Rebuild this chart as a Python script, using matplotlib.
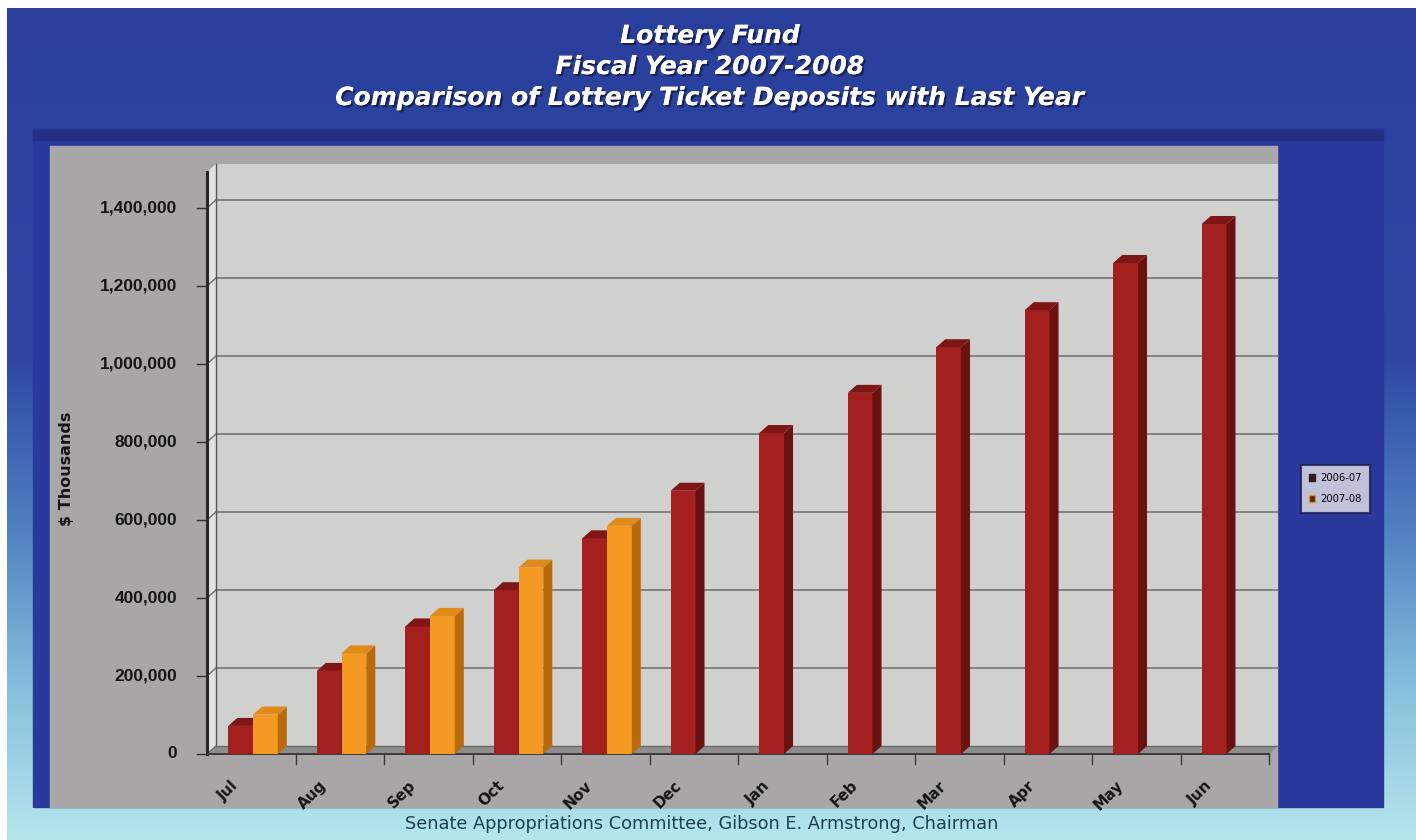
import numpy as np
import matplotlib
matplotlib.use("Agg")
import matplotlib.pyplot as plt
from matplotlib.patches import Polygon, Rectangle, Patch
from matplotlib.colors import LinearSegmentedColormap
import matplotlib.patheffects as pe

# ---- data ($ thousands, cumulative deposits) ----
months = ["Jul", "Aug", "Sep", "Oct", "Nov", "Dec", "Jan", "Feb", "Mar", "Apr", "May", "Jun"]
fy_2006_07 = [72000, 213000, 327000, 420000, 553000, 675000, 823000, 926000, 1043000, 1138000, 1259000, 1359000]
fy_2007_08 = [101000, 258000, 354000, 478000, 585000]
series_labels = ["2006-07", "2007-08"]
y_ticks = [0, 200000, 400000, 600000, 800000, 1000000, 1200000, 1400000]

title_lines = ["Lottery Fund", "Fiscal Year 2007-2008",
               "Comparison of Lottery Ticket Deposits with Last Year"]
callout = "Year-to-Date Lottery Collections Are\n$32.2 Million Above Last Year"
footer = "Senate Appropriations Committee, Gibson E. Armstrong, Chairman"

W, H = 1416, 840
fig = plt.figure(figsize=(W / 100, H / 100), dpi=100)

# ---- background layer in pixel coordinates ----
bg = fig.add_axes([0, 0, 1, 1], zorder=0)
bg.set_xlim(0, W)
bg.set_ylim(H, 0)
bg.axis("off")

grad = LinearSegmentedColormap.from_list(
    "bg", [(0.0, "#2a3f9c"), (0.42, "#2d47a3"), (0.62, "#4f7fc0"),
           (0.82, "#86c0dc"), (1.0, "#b6e6ec")])
g = np.linspace(0, 1, 400).reshape(-1, 1)
bg.imshow(g, cmap=grad, extent=(7, W, H, 8), aspect="auto", zorder=0)

# dark chart panel, grey plot area
bg.add_patch(Rectangle((33, 130), 1350, 677, color="#2b399c", zorder=1))
bg.add_patch(Rectangle((33, 130), 1350, 10, color="#232f85", zorder=1.1))
bg.add_patch(Rectangle((50, 146), 1227, 661, color="#a9a6a7", zorder=2))

# title
for i, line in enumerate(title_lines):
    bg.text(710, 36 + i * 31, line, ha="center", va="center", color="white",
            fontsize=18, fontweight="bold", fontstyle="italic",
            family="DejaVu Sans", zorder=5,
            path_effects=[pe.withSimplePatchShadow(offset=(1.5, -1.5),
                                                   shadow_rgbFace="#111133", alpha=0.7),
                          pe.Normal()])

# footer
bg.text(702, 824, footer, ha="center", va="center", color="#1c4052",
        fontsize=12.8, family="DejaVu Sans", zorder=5)

# ---- chart axes (front plane of the 3-D box) ----
x0_px, x1_px, ybase_px, ytop_px = 207, 1269, 754, 172
ax = fig.add_axes([x0_px / W, 1 - ybase_px / H, (x1_px - x0_px) / W,
                   (ybase_px - ytop_px) / H], zorder=2)
ax.patch.set_alpha(0)
ax.axis("off")
n = len(months)
ymax = (ybase_px - ytop_px) / 78 * 200000
ax.set_xlim(-0.5, n - 0.5)
ax.set_ylim(0, ymax)

DX, DY = 9, 8  # depth of the 3-D effect, pixels
ppx = (x1_px - x0_px) / n
ppy = (ybase_px - ytop_px) / ymax
ddx, ddy = DX / ppx, DY / ppy
xl, xr = -0.5, n - 0.5

def poly(pts, color, z, ec="none", lw=0):
    ax.add_patch(Polygon(pts, closed=True, facecolor=color, edgecolor=ec,
                         lw=lw, zorder=z, clip_on=False))

# back wall, left wall, floor
poly([(xl + ddx, ddy), (xr + ddx, ddy), (xr + ddx, ymax + ddy), (xl + ddx, ymax + ddy)],
     "#d0d0cf", 1)
poly([(xl, 0), (xl + ddx, ddy), (xl + ddx, ymax + ddy), (xl, ymax)], "#e2e2e2", 1.2)
poly([(xl, 0), (xr, 0), (xr + ddx, ddy), (xl + ddx, ddy)], "#8f8d8e", 1.3)

for v in y_ticks[1:]:
    ax.plot([xl + ddx, xr + ddx], [v + ddy, v + ddy], color="#6e6e6e", lw=1.1,
            zorder=1.5, clip_on=False)
for v in y_ticks:
    ax.plot([xl, xl + ddx], [v, v + ddy], color="#6e6e6e", lw=1.0, zorder=1.5,
            clip_on=False)
    ax.plot([xl - 0.11, xl], [v, v], color="#303030", lw=1.0, zorder=1.6,
            clip_on=False)
    ax.annotate(f"{v:,}", xy=(xl, v), xytext=(-30, 0), textcoords="offset pixels",
                ha="right", va="center", fontsize=12.5, fontweight="bold",
                family="Liberation Sans", color="#151515", annotation_clip=False)

ax.plot([xl, xl], [0, ymax], color="#262626", lw=2.2, zorder=1.7, clip_on=False)
ax.plot([xl + ddx, xl + ddx], [ddy, ymax + ddy], color="#555555", lw=1, zorder=1.7,
        clip_on=False)
ax.plot([xl, xr], [0, 0], color="#3a3a3a", lw=1.4, zorder=1.7, clip_on=False)
ax.plot([xl + ddx, xr + ddx], [ddy, ddy], color="#6a6a6a", lw=1, zorder=1.7,
        clip_on=False)
for k in range(1, n + 1):
    ax.plot([k - 0.5, k - 0.5], [0, -10 / ppy], color="#3a3a3a", lw=1, zorder=1.7,
            clip_on=False)

# month labels
for i, m in enumerate(months):
    ax.annotate(m, xy=(i - 0.11, 0), xytext=(0, -24), textcoords="offset pixels",
                ha="right", va="top", rotation=45, fontsize=11, fontweight="bold",
                family="DejaVu Sans", color="#151515", annotation_clip=False)

# ---- 3-D bars ----
bw = 0.28
styles = [("#a3201f", "#6a1111", "#7e1616"), ("#f49a22", "#b96a0d", "#e08a1a")]
offsets = [-0.26, -0.26 + bw]
for s, vals in enumerate([fy_2006_07, fy_2007_08]):
    front, side, top = styles[s]
    xs = np.arange(len(vals)) + offsets[s]
    z = 3 + 2 * s
    ax.bar(xs, vals, width=bw, align="edge", color=front, zorder=z,
           edgecolor="none", clip_on=False)
    for x, v in zip(xs, vals):
        poly([(x + bw, 0), (x + bw + ddx, ddy), (x + bw + ddx, v + ddy), (x + bw, v)],
             side, z + 0.5)
        poly([(x, v), (x + bw, v), (x + bw + ddx, v + ddy), (x + ddx, v + ddy)],
             top, z + 0.5)

# y axis title
bg.text(66, 469, "$ Thousands", rotation=90, ha="center", va="center",
        fontsize=11.5, fontweight="bold", family="DejaVu Sans", color="#151515",
        zorder=5)

# ---- callout box ----
for k, a in enumerate([0.10, 0.10, 0.12]):
    bg.add_patch(Rectangle((322 + 3 + k * 2, 214 + 3 + k * 2), 395, 80,
                           color="#555555", alpha=a, lw=0, zorder=6))
bg.add_patch(Rectangle((322, 214), 395, 80, facecolor="#2a35a6", edgecolor="#3a48b8",
                       lw=1, zorder=7))
bg.text(519, 254, callout, ha="center", va="center", color="white", fontsize=9.8,
        fontweight="bold", family="DejaVu Sans", linespacing=1.3, zorder=8)

# ---- legend ----
handles = [Patch(facecolor="#3b1418", edgecolor="#222222", label=series_labels[0]),
           Patch(facecolor="#4a2a10", edgecolor="#e0901e", label=series_labels[1])]
leg = fig.legend(handles=handles, loc="center", bbox_to_anchor=(1335.5 / W, 1 - 488.5 / H),
                 prop={"family": "DejaVu Sans", "size": 7.2}, frameon=True,
                 fancybox=False, handlelength=0.6, handleheight=0.6,
                 handletextpad=0.5, labelspacing=1.1, borderpad=0.85,
                 borderaxespad=0)
leg.get_frame().set_facecolor("#e6e6ea")
leg.get_frame().set_edgecolor("#1a1a50")
leg.get_frame().set_linewidth(1.5)
leg.set_zorder(10)

fig.savefig("out.png", dpi=100, facecolor="white")
